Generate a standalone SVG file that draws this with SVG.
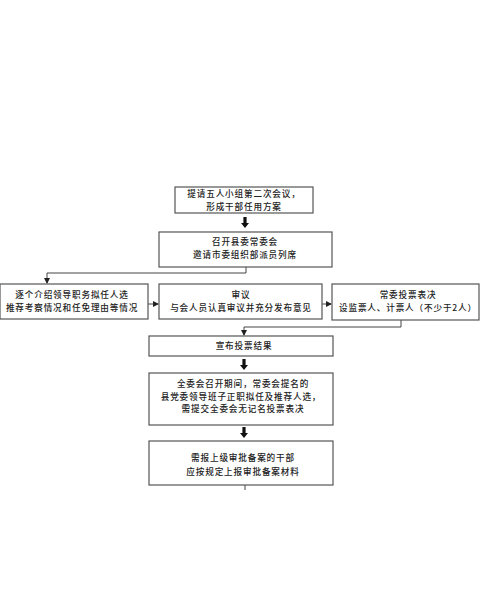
<svg xmlns="http://www.w3.org/2000/svg" xmlns:xlink="http://www.w3.org/1999/xlink" width="480" height="606" viewBox="0 0 480 606">
<style>
.box{fill:#fff;stroke:#555;stroke-width:1.2}
.t{font-family:"Noto Sans CJK SC","Noto Sans CJK JP",sans-serif;font-size:8.6px;letter-spacing:0.85px;fill:#222;text-anchor:middle;font-weight:500}
.ln{fill:none;stroke:#444;stroke-width:1}
</style>
<defs>
<marker id="ah" markerWidth="6" markerHeight="6" refX="5" refY="3" orient="auto" markerUnits="userSpaceOnUse">
<path d="M0,0 L6,3 L0,6 Z" fill="#222"/>
</marker>
<path id="big" d="M-1.6,0 H1.6 V6 H4 L0,11 L-4,6 H-1.6 Z" fill="#111"/>
</defs>
<rect width="480" height="606" fill="#fff"/>
<g id="connectors">
<use xlink:href="#big" x="245" y="217"/>
<path class="ln" d="M246,267 V273 H47 V283" marker-end="url(#ah)"/>
<path class="ln" d="M148,304 H158" marker-end="url(#ah)"/>
<path class="ln" d="M322,304 H331" marker-end="url(#ah)"/>
<path class="ln" d="M401,320 V327 H244 V335" marker-end="url(#ah)"/>
<use xlink:href="#big" x="244" y="359"/>
<use xlink:href="#big" x="244" y="427"/>
<path class="ln" d="M245,485 V490"/>
</g>
<g id="n1">
<rect class="box" x="175" y="187" width="138" height="26"/>
<text class="t" x="244" y="197">提请五人小组第二次会议，</text>
<text class="t" x="244" y="209.5">形成干部任用方案</text>
</g>
<g id="n2">
<rect class="box" x="159" y="232" width="173" height="35"/>
<text class="t" x="245" y="245">召开县委常委会</text>
<text class="t" x="245" y="258">邀请市委组织部派员列席</text>
</g>
<g id="n3">
<rect class="box" x="0" y="284" width="148" height="35"/>
<text class="t" x="72" y="298">逐个介绍领导职务拟任人选</text>
<text class="t" x="72" y="311">推荐考察情况和任免理由等情况</text>
</g>
<g id="n4">
<rect class="box" x="159" y="284" width="163" height="35"/>
<text class="t" x="241" y="298">审议</text>
<text class="t" x="241" y="311">与会人员认真审议并充分发布意见</text>
</g>
<g id="n5">
<rect class="box" x="332" y="284" width="147" height="36"/>
<text class="t" x="408" y="298">常委投票表决</text>
<text class="t" x="408" y="311">设监票人、计票人（不少于2人）</text>
</g>
<g id="n6">
<rect class="box" x="149" y="336" width="184" height="20"/>
<text class="t" x="244" y="349">宣布投票结果</text>
</g>
<g id="n7">
<rect class="box" x="149" y="373" width="184" height="52"/>
<text class="t" x="243" y="387">全委会召开期间，常委会提名的</text>
<text class="t" x="241" y="399.5">县党委领导班子正职拟任及推荐人选，</text>
<text class="t" x="243" y="412">需提交全委会无记名投票表决</text>
</g>
<g id="n8">
<rect class="box" x="149" y="441" width="184" height="44"/>
<text class="t" x="243" y="461">需报上级审批备案的干部</text>
<text class="t" x="243" y="475">应按规定上报审批备案材料</text>
</g>
</svg>
